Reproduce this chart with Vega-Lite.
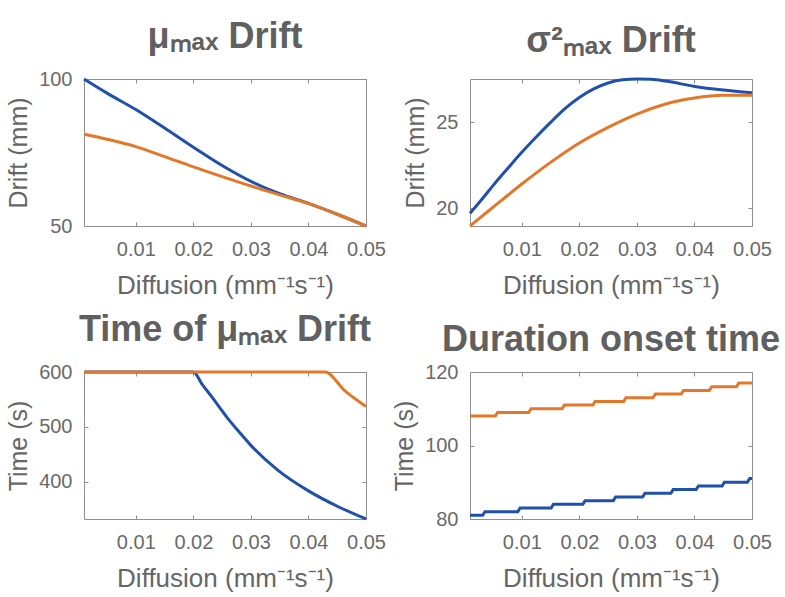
{
  "$schema": "https://vega.github.io/schema/vega-lite/v6.json",
  "padding": {"left": 6, "top": 18, "right": 5, "bottom": 5},
  "bounds": "flush",
  "columns": 2,
  "spacing": {"row": 146, "column": 104},
  "datasets": {
    "p1": [
      {"s": "s1", "x": 0.001, "y": 100}, {"s": "s1", "x": 0.005, "y": 95.2}, {"s": "s1", "x": 0.01, "y": 89.6},
      {"s": "s1", "x": 0.015, "y": 83.3}, {"s": "s1", "x": 0.02, "y": 76.8}, {"s": "s1", "x": 0.025, "y": 70.6},
      {"s": "s1", "x": 0.03, "y": 65.2}, {"s": "s1", "x": 0.035, "y": 61.0}, {"s": "s1", "x": 0.04, "y": 57.7},
      {"s": "s1", "x": 0.045, "y": 54.0}, {"s": "s1", "x": 0.05, "y": 50},
      {"s": "s2", "x": 0.001, "y": 81.2}, {"s": "s2", "x": 0.005, "y": 79.5}, {"s": "s2", "x": 0.01, "y": 77.0},
      {"s": "s2", "x": 0.015, "y": 73.6}, {"s": "s2", "x": 0.02, "y": 70.1}, {"s": "s2", "x": 0.025, "y": 66.8},
      {"s": "s2", "x": 0.03, "y": 63.6}, {"s": "s2", "x": 0.035, "y": 60.6}, {"s": "s2", "x": 0.04, "y": 57.6},
      {"s": "s2", "x": 0.045, "y": 54.0}, {"s": "s2", "x": 0.05, "y": 50}
    ],
    "p2": [
      {"s": "s1", "x": 0.001, "y": 19.71}, {"s": "s1", "x": 0.003, "y": 20.5}, {"s": "s1", "x": 0.005, "y": 21.32},
      {"s": "s1", "x": 0.0075, "y": 22.3}, {"s": "s1", "x": 0.01, "y": 23.26}, {"s": "s1", "x": 0.0125, "y": 24.15},
      {"s": "s1", "x": 0.015, "y": 25.0}, {"s": "s1", "x": 0.0175, "y": 25.8}, {"s": "s1", "x": 0.02, "y": 26.45},
      {"s": "s1", "x": 0.0225, "y": 26.95}, {"s": "s1", "x": 0.025, "y": 27.29}, {"s": "s1", "x": 0.0275, "y": 27.48},
      {"s": "s1", "x": 0.03, "y": 27.52}, {"s": "s1", "x": 0.0325, "y": 27.5}, {"s": "s1", "x": 0.035, "y": 27.4},
      {"s": "s1", "x": 0.04, "y": 27.09}, {"s": "s1", "x": 0.045, "y": 26.88}, {"s": "s1", "x": 0.05, "y": 26.72},
      {"s": "s2", "x": 0.001, "y": 18.97}, {"s": "s2", "x": 0.005, "y": 20.06}, {"s": "s2", "x": 0.01, "y": 21.41},
      {"s": "s2", "x": 0.015, "y": 22.67}, {"s": "s2", "x": 0.02, "y": 23.8}, {"s": "s2", "x": 0.025, "y": 24.71},
      {"s": "s2", "x": 0.03, "y": 25.48}, {"s": "s2", "x": 0.035, "y": 26.07}, {"s": "s2", "x": 0.04, "y": 26.41},
      {"s": "s2", "x": 0.045, "y": 26.57}, {"s": "s2", "x": 0.05, "y": 26.58}
    ],
    "p3": [
      {"s": "s1", "x": 0.001, "y": 600}, {"s": "s1", "x": 0.02, "y": 600}, {"s": "s1", "x": 0.0215, "y": 578},
      {"s": "s1", "x": 0.02318, "y": 555}, {"s": "s1", "x": 0.02608, "y": 514}, {"s": "s1", "x": 0.028, "y": 490},
      {"s": "s1", "x": 0.03, "y": 466}, {"s": "s1", "x": 0.03477, "y": 420}, {"s": "s1", "x": 0.04, "y": 383},
      {"s": "s1", "x": 0.04519, "y": 354}, {"s": "s1", "x": 0.05, "y": 331.6},
      {"s": "s2", "x": 0.001, "y": 600}, {"s": "s2", "x": 0.0429, "y": 600}, {"s": "s2", "x": 0.0463, "y": 566},
      {"s": "s2", "x": 0.05, "y": 537}
    ],
    "p4": [
      {"s": "s1", "x": 0.001, "y": 81}, {"s": "s1", "x": 0.0032, "y": 81}, {"s": "s1", "x": 0.0036, "y": 82},
      {"s": "s1", "x": 0.0093, "y": 82}, {"s": "s1", "x": 0.0097, "y": 83}, {"s": "s1", "x": 0.0151, "y": 83},
      {"s": "s1", "x": 0.0155, "y": 84}, {"s": "s1", "x": 0.0206, "y": 84}, {"s": "s1", "x": 0.021, "y": 85},
      {"s": "s1", "x": 0.0259, "y": 85}, {"s": "s1", "x": 0.0263, "y": 86}, {"s": "s1", "x": 0.031, "y": 86},
      {"s": "s1", "x": 0.0314, "y": 87}, {"s": "s1", "x": 0.0359, "y": 87}, {"s": "s1", "x": 0.0363, "y": 88},
      {"s": "s1", "x": 0.0403, "y": 88}, {"s": "s1", "x": 0.0407, "y": 89}, {"s": "s1", "x": 0.0448, "y": 89},
      {"s": "s1", "x": 0.0452, "y": 90}, {"s": "s1", "x": 0.0492, "y": 90}, {"s": "s1", "x": 0.0496, "y": 91},
      {"s": "s1", "x": 0.05, "y": 91},
      {"s": "s2", "x": 0.001, "y": 108}, {"s": "s2", "x": 0.0054, "y": 108}, {"s": "s2", "x": 0.0058, "y": 109},
      {"s": "s2", "x": 0.0112, "y": 109}, {"s": "s2", "x": 0.0116, "y": 110}, {"s": "s2", "x": 0.017, "y": 110},
      {"s": "s2", "x": 0.0174, "y": 111}, {"s": "s2", "x": 0.02235, "y": 111}, {"s": "s2", "x": 0.02275, "y": 112},
      {"s": "s2", "x": 0.0277, "y": 112}, {"s": "s2", "x": 0.0281, "y": 113}, {"s": "s2", "x": 0.0328, "y": 113},
      {"s": "s2", "x": 0.0332, "y": 114}, {"s": "s2", "x": 0.0377, "y": 114}, {"s": "s2", "x": 0.0381, "y": 115},
      {"s": "s2", "x": 0.0426, "y": 115}, {"s": "s2", "x": 0.043, "y": 116}, {"s": "s2", "x": 0.0473, "y": 116},
      {"s": "s2", "x": 0.0477, "y": 117}, {"s": "s2", "x": 0.05, "y": 117}
    ]
  },
  "concat": [
    {
      "width": 282, "height": 147,
      "title": {"text": "μₘₐₓ Drift", "offset": 13},
      "data": {"name": "p1"},
      "layer": [
        {
          "mark": {"type": "line", "strokeWidth": 3, "interpolate": "monotone"},
          "encoding": {
            "x": {"field": "x", "type": "quantitative", "scale": {"domain": [0.001, 0.05], "nice": false, "zero": false},
                  "axis": {"values": [0.01, 0.02, 0.03, 0.04, 0.05], "format": ".2f", "title": "Diffusion (mm⁻¹s⁻¹)"}},
            "y": {"field": "y", "type": "quantitative", "scale": {"domain": [50, 100], "nice": false, "zero": false},
                  "axis": {"values": [50, 100], "title": "Drift (mm)"}},
            "color": {"field": "s", "type": "nominal", "scale": {"domain": ["s1", "s2"], "range": ["#2150aa", "#e3782a"]}, "legend": null}
          }
        },
        {
          "mark": {"type": "line", "opacity": 0},
          "encoding": {
            "x": {"field": "x", "type": "quantitative", "axis": {"orient": "top", "values": [0.01, 0.02, 0.03, 0.04, 0.05], "labels": false, "title": null}},
            "y": {"field": "y", "type": "quantitative", "axis": {"orient": "right", "values": [50, 100], "labels": false, "title": null}},
            "detail": {"field": "s"}
          }
        }
      ],
      "resolve": {"axis": {"x": "independent", "y": "independent"}}
    },
    {
      "width": 282, "height": 147,
      "title": {"text": "σ²ₘₐₓ Drift", "offset": 13},
      "data": {"name": "p2"},
      "layer": [
        {
          "mark": {"type": "line", "strokeWidth": 3, "interpolate": "monotone"},
          "encoding": {
            "x": {"field": "x", "type": "quantitative", "scale": {"domain": [0.001, 0.05], "nice": false, "zero": false},
                  "axis": {"values": [0.01, 0.02, 0.03, 0.04, 0.05], "format": ".2f", "title": "Diffusion (mm⁻¹s⁻¹)"}},
            "y": {"field": "y", "type": "quantitative", "scale": {"domain": [18.97, 27.52], "nice": false, "zero": false},
                  "axis": {"values": [20, 25], "title": "Drift (mm)"}},
            "color": {"field": "s", "type": "nominal", "scale": {"domain": ["s1", "s2"], "range": ["#2150aa", "#e3782a"]}, "legend": null}
          }
        },
        {
          "mark": {"type": "line", "opacity": 0},
          "encoding": {
            "x": {"field": "x", "type": "quantitative", "axis": {"orient": "top", "values": [0.01, 0.02, 0.03, 0.04, 0.05], "labels": false, "title": null}},
            "y": {"field": "y", "type": "quantitative", "axis": {"orient": "right", "values": [20, 25], "labels": false, "title": null}},
            "detail": {"field": "s"}
          }
        }
      ],
      "resolve": {"axis": {"x": "independent", "y": "independent"}}
    },
    {
      "width": 282, "height": 147,
      "title": {"text": "Time of μₘₐₓ Drift", "offset": 13},
      "data": {"name": "p3"},
      "layer": [
        {
          "mark": {"type": "line", "strokeWidth": 3, "interpolate": "monotone"},
          "encoding": {
            "x": {"field": "x", "type": "quantitative", "scale": {"domain": [0.001, 0.05], "nice": false, "zero": false},
                  "axis": {"values": [0.01, 0.02, 0.03, 0.04, 0.05], "format": ".2f", "title": "Diffusion (mm⁻¹s⁻¹)"}},
            "y": {"field": "y", "type": "quantitative", "scale": {"domain": [331.6, 600], "nice": false, "zero": false},
                  "axis": {"values": [400, 500, 600], "title": "Time (s)"}},
            "color": {"field": "s", "type": "nominal", "scale": {"domain": ["s1", "s2"], "range": ["#2150aa", "#e3782a"]}, "legend": null}
          }
        },
        {
          "mark": {"type": "line", "opacity": 0},
          "encoding": {
            "x": {"field": "x", "type": "quantitative", "axis": {"orient": "top", "values": [0.01, 0.02, 0.03, 0.04, 0.05], "labels": false, "title": null}},
            "y": {"field": "y", "type": "quantitative", "axis": {"orient": "right", "values": [400, 500, 600], "labels": false, "title": null}},
            "detail": {"field": "s"}
          }
        }
      ],
      "resolve": {"axis": {"x": "independent", "y": "independent"}}
    },
    {
      "width": 282, "height": 147,
      "title": {"text": "Duration onset time", "offset": 3},
      "data": {"name": "p4"},
      "layer": [
        {
          "mark": {"type": "line", "strokeWidth": 3},
          "encoding": {
            "x": {"field": "x", "type": "quantitative", "scale": {"domain": [0.001, 0.05], "nice": false, "zero": false},
                  "axis": {"values": [0.01, 0.02, 0.03, 0.04, 0.05], "format": ".2f", "title": "Diffusion (mm⁻¹s⁻¹)"}},
            "y": {"field": "y", "type": "quantitative", "scale": {"domain": [80, 120], "nice": false, "zero": false},
                  "axis": {"values": [80, 100, 120], "title": "Time (s)"}},
            "color": {"field": "s", "type": "nominal", "scale": {"domain": ["s1", "s2"], "range": ["#2150aa", "#e3782a"]}, "legend": null}
          }
        },
        {
          "mark": {"type": "line", "opacity": 0},
          "encoding": {
            "x": {"field": "x", "type": "quantitative", "axis": {"orient": "top", "values": [0.01, 0.02, 0.03, 0.04, 0.05], "labels": false, "title": null}},
            "y": {"field": "y", "type": "quantitative", "axis": {"orient": "right", "values": [80, 100, 120], "labels": false, "title": null}},
            "detail": {"field": "s"}
          }
        }
      ],
      "resolve": {"axis": {"x": "independent", "y": "independent"}}
    }
  ],
  "config": {
    "font": "Liberation Sans",
    "view": {"stroke": "#8f8f8f", "strokeWidth": 1},
    "axis": {
      "grid": false, "domain": false, "tickColor": "#8f8f8f", "tickSize": -4, "tickWidth": 1,
      "labelFlush": false, "labelOverlap": false, "labelBound": false,
      "labelFontSize": 20, "labelColor": "#6a6a6a", "labelPadding": 16,
      "titleFontSize": 25, "titleFontWeight": "normal", "titleColor": "#666666", "titlePadding": 7
    },
    "axisX": {"labelPadding": 17, "titlePadding": 13, "titleFontSize": 26},
    "title": {"fontSize": 36, "fontWeight": "bold", "color": "#606060", "anchor": "middle"}
  }
}
